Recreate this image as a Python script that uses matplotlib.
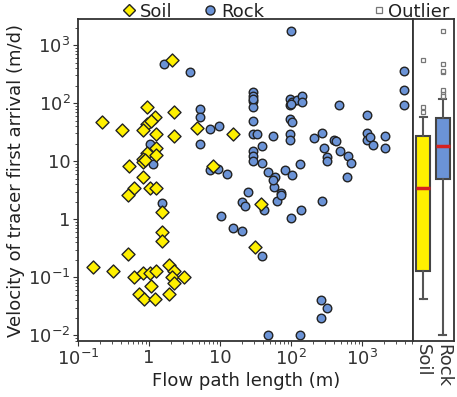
import numpy as np
import matplotlib
matplotlib.use("Agg")
import matplotlib.pyplot as plt
from matplotlib.lines import Line2D

# flow path length (m) and velocity of first arrival (m/d)
soil_x = [2.1, 0.94, 2.25, 0.22, 0.42, 0.94, 1.2, 0.82, 1.25, 2.25, 4.7, 0.94,
          1.25, 1.25, 0.82, 0.82, 0.52, 0.82, 1.03, 1.25, 0.61, 0.5, 8.0, 1.5,
          1.5, 1.5, 0.5, 0.16, 0.31, 0.61, 0.82, 1.03, 1.25, 1.07, 1.9, 2.2,
          2.1, 2.25, 3.1, 0.72, 0.85, 1.2, 1.9, 15, 38, 31, 1.05, 0.86]
soil_v = [550, 85, 70, 47, 34, 43, 57, 34, 29, 27, 37, 14,
          17, 12.7, 11, 9.6, 8.2, 5.3, 3.4, 3.4, 3.4, 2.6, 8.2, 1.32,
          0.6, 0.42, 0.25, 0.15, 0.13, 0.1, 0.12, 0.12, 0.13, 0.07, 0.16, 0.13,
          0.1, 0.079, 0.1, 0.051, 0.042, 0.042, 0.051, 29, 1.8, 0.33, 50, 10.5]

rock_x = [1.63, 3.7, 100, 5.2, 5.2, 7.2, 9.7, 5.2, 1.03, 1.14, 7.2, 9.4, 12.5,
          29, 29, 29, 29, 29, 29, 33, 56, 39, 29, 29, 29, 39, 47, 59, 83, 103,
          134, 97, 97, 103, 121, 142, 142, 97, 103, 97, 95, 475, 1180, 3900,
          3900, 3900, 210, 275, 290, 400, 420, 490, 315, 320, 630, 700, 610,
          1150, 1180, 1300, 1400, 2100, 2100, 57, 25, 72, 56, 20, 22, 63, 72,
          42, 138, 100, 10.3, 15, 20, 39, 47, 134, 275, 265, 320, 265, 1.5,
          29, 98]
rock_v = [470, 340, 1740, 79, 57, 36, 40, 20, 20, 8.9, 7, 7.2, 6,
          155, 132, 108, 85, 49, 29, 29, 27, 18, 14.9, 12.2, 10, 9.2, 6.5, 5.3, 7, 5.7,
          8.9, 117, 92, 104, 113, 132, 104, 53, 47, 29, 23, 92, 62, 355,
          167, 92, 25, 31, 17, 23, 22, 15, 11.7, 10, 12.2, 9.2, 5.3,
          30, 23, 26, 19, 27, 17, 3.6, 2.9, 2.8, 4.7, 1.96, 1.68, 2.1, 2.6,
          1.43, 1.43, 1.04, 1.13, 0.7, 0.62, 0.23, 0.01, 0.01, 2.1, 0.04, 0.03, 0.02, 1.9,
          120, 98]

x_ticks = [0.1, 1, 10, 100, 1000]
x_ticklabels = ["$10^{-1}$", "1", "10", "$10^{2}$", "$10^{3}$"]
y_ticks = [0.01, 0.1, 1, 10, 100, 1000]
y_ticklabels = ["$10^{-2}$", "$10^{-1}$", "1", "10", "$10^{2}$", "$10^{3}$"]
groups = ["Soil", "Rock"]

soil_color = "#fff000"
rock_color = "#6b93d6"
edge = "#222222"

plt.rcParams["font.size"] = 13
plt.rcParams["text.color"] = "#222222"
plt.rcParams["axes.labelcolor"] = "#222222"
plt.rcParams["xtick.color"] = "#333333"
plt.rcParams["ytick.color"] = "#333333"

fig = plt.figure(figsize=(4.57, 3.97), dpi=100)
ax = fig.add_axes([0.171, 0.141, 0.733, 0.811])
bx = fig.add_axes([0.904, 0.141, 0.089, 0.811], sharey=ax)

ax.scatter(soil_x, soil_v, marker="D", s=44, c=soil_color, edgecolors=edge, linewidths=1, zorder=3)
ax.scatter(rock_x, rock_v, marker="o", s=38, c=rock_color, edgecolors=edge, linewidths=1, zorder=2)
ax.set_xscale("log")
ax.set_yscale("log")
ax.set_xlim(0.1, 5200)
ax.set_ylim(0.008, 2800)
ax.set_xticks(x_ticks)
ax.set_xticklabels(x_ticklabels)
ax.set_yticks(y_ticks)
ax.set_yticklabels(y_ticklabels)
ax.set_xlabel("Flow path length (m)", labelpad=2)
ax.set_ylabel("Velocity of tracer first arrival (m/d)", labelpad=2)
ax.tick_params(pad=2)

bp = bx.boxplot([soil_v, rock_v], positions=[1, 2], widths=0.7, patch_artist=True,
                medianprops=dict(color="#d62020", linewidth=2.5),
                whiskerprops=dict(color="#555555", linewidth=1.5),
                capprops=dict(color="#555555", linewidth=1.5),
                boxprops=dict(edgecolor="#444444", linewidth=1.5),
                flierprops=dict(marker="s", markersize=3.5, markerfacecolor="white",
                                markeredgecolor="#777777", markeredgewidth=0.9))
for patch, col in zip(bp["boxes"], [soil_color, rock_color]):
    patch.set_facecolor(col)
bx.set_xlim(0.5, 2.55)
bx.set_xticks([1, 2])
bx.set_xticklabels(groups, rotation=270)
bx.tick_params(axis="y", which="both", left=False, labelleft=False)
bx.tick_params(axis="x", length=0, pad=2)

for a in (ax, bx):
    for sp in a.spines.values():
        sp.set_color("#333333")
        sp.set_linewidth(1.3)

h1 = [Line2D([], [], marker="D", ls="", markersize=6, markerfacecolor=soil_color, markeredgecolor=edge),
      Line2D([], [], marker="o", ls="", markersize=6.5, markerfacecolor=rock_color, markeredgecolor=edge)]
fig.legend(h1, groups, loc="upper center", bbox_to_anchor=(0.42, 1.025), ncol=2, frameon=False,
           handletextpad=0.1, columnspacing=1.6, borderpad=0.2, handlelength=1)
h2 = [Line2D([], [], marker="s", ls="", markersize=4, markerfacecolor="white",
             markeredgecolor="#777777", markeredgewidth=0.9)]
fig.legend(h2, ["Outlier"], loc="upper right", bbox_to_anchor=(1.01, 1.025), frameon=False,
           handletextpad=0.1, borderpad=0.2, handlelength=0.8)

fig.savefig("out.png", dpi=100)
